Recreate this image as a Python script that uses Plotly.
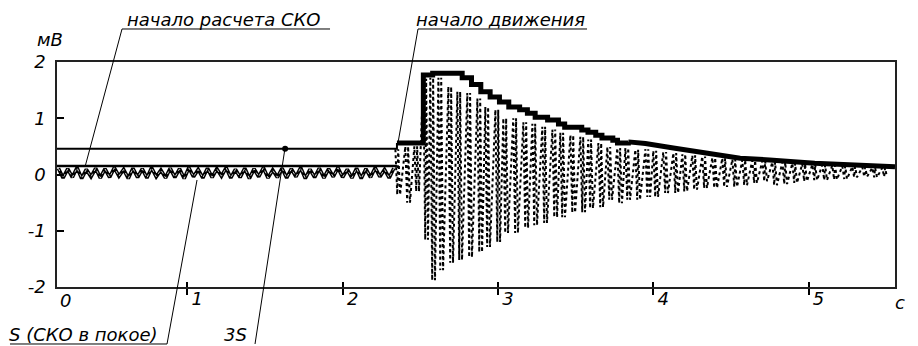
import plotly.graph_objects as go

# ---------------- data ----------------
# rest-state noise before motion (time, s ; value, mV)
rest_t = [0.17, 0.20, 0.23, 0.26, 0.29, 0.32, 0.35, 0.38, 0.41, 0.44,
          0.47, 0.50, 0.53, 0.56, 0.59, 0.62, 0.65, 0.68, 0.71, 0.74,
          0.77, 0.80, 0.83, 0.86, 0.89, 0.92, 0.95, 0.98, 1.01, 1.04,
          1.07, 1.10, 1.13, 1.16, 1.19, 1.22, 1.25, 1.28, 1.31, 1.34,
          1.37, 1.40, 1.43, 1.46, 1.49, 1.52, 1.55, 1.58, 1.61, 1.64,
          1.67, 1.70, 1.73, 1.76, 1.79, 1.82, 1.85, 1.88, 1.91, 1.94,
          1.97, 2.00, 2.03, 2.06, 2.09, 2.12, 2.15, 2.18, 2.21, 2.24,
          2.27, 2.30, 2.33]
rest_v = [0.11, -0.06, 0.10, -0.05, 0.12, -0.07, 0.09, -0.04, 0.11, -0.06,
          0.10, -0.05, 0.12, -0.03, 0.09, -0.07, 0.11, -0.05, 0.10, -0.06,
          0.12, -0.04, 0.08, -0.06, 0.11, -0.05, 0.10, -0.07, 0.12, -0.04,
          0.09, -0.06, 0.11, -0.05, 0.10, -0.03, 0.12, -0.06, 0.09, -0.05,
          0.11, -0.07, 0.10, -0.04, 0.12, -0.06, 0.08, -0.05, 0.11, -0.06,
          0.10, -0.04, 0.12, -0.07, 0.09, -0.05, 0.11, -0.06, 0.10, -0.04,
          0.12, -0.05, 0.09, -0.06, 0.11, -0.07, 0.10, -0.05, 0.12, -0.04,
          0.09, -0.06, 0.11]

# oscillation cycles during motion: time of each cycle, its maximum and minimum
spike_t = [2.370, 2.434, 2.492, 2.550, 2.595, 2.647, 2.711, 2.769, 2.833, 2.898,
           2.949, 3.014, 3.065, 3.129, 3.194, 3.252, 3.316, 3.381, 3.432, 3.497,
           3.561, 3.612, 3.677, 3.735, 3.799, 3.851, 3.915, 3.980, 4.031, 4.095,
           4.160, 4.218, 4.282, 4.346, 4.411, 4.475, 4.540, 4.604, 4.668, 4.733,
           4.797, 4.862, 4.926, 4.990, 5.055, 5.119, 5.183, 5.248, 5.312, 5.377,
           5.441, 5.505]
spike_max = [0.45, 0.50, 0.50, 1.70, 1.72, 1.72, 1.56, 1.47, 1.45, 1.35,
             1.20, 1.15, 1.00, 1.00, 0.93, 0.90, 0.85, 0.80, 0.74, 0.70,
             0.67, 0.62, 0.56, 0.49, 0.47, 0.47, 0.44, 0.45, 0.42, 0.40,
             0.38, 0.36, 0.34, 0.32, 0.30, 0.29, 0.27, 0.26, 0.25, 0.24,
             0.22, 0.22, 0.20, 0.19, 0.18, 0.17, 0.16, 0.15, 0.14, 0.13,
             0.12, 0.12]
spike_min = [-0.36, -0.50, -0.30, -1.16, -1.88, -1.70, -1.57, -1.52, -1.47, -1.38,
             -1.29, -1.20, -1.04, -1.04, -0.95, -0.90, -0.86, -0.76, -0.76, -0.68,
             -0.67, -0.60, -0.58, -0.45, -0.51, -0.45, -0.45, -0.40, -0.40, -0.33,
             -0.33, -0.30, -0.27, -0.24, -0.24, -0.22, -0.22, -0.19, -0.15, -0.12,
             -0.19, -0.17, -0.15, -0.12, -0.10, -0.10, -0.09, -0.08, -0.05, -0.04,
             -0.05, -0.04]

# S (RMS at rest) and 3S threshold
s_t = [0.16, 2.35]
s_v = [0.15, 0.15]
thr_t = [0.16, 2.35]
thr_v = [0.46, 0.46]
mark_t = [1.63]
mark_v = [0.46]

# envelope during motion: stepped part and smooth tail
env_t = [2.35, 2.52, 2.58, 2.77, 2.83, 2.89, 2.95, 3.01, 3.07, 3.14, 3.19, 3.24,
         3.32, 3.39, 3.43, 3.54, 3.58, 3.63, 3.67, 3.74, 3.77, 3.84]
env_v = [0.56, 1.77, 1.80, 1.72, 1.60, 1.47, 1.38, 1.29, 1.20, 1.15, 1.09, 1.02,
         0.97, 0.90, 0.84, 0.79, 0.75, 0.70, 0.65, 0.61, 0.56, 0.58]
tail_t = [3.84, 3.95, 4.13, 4.35, 4.56, 4.75, 5.04, 5.557]
tail_v = [0.58, 0.55, 0.47, 0.38, 0.29, 0.26, 0.20, 0.14]

x_ticks = [1, 2, 3, 4, 5]
y_ticks = [-2, -1, 0, 1, 2]
X_RANGE = [0.161, 5.557]
Y_RANGE = [-2, 2]

FONT = "DejaVu Sans"
TXT = dict(family=FONT, size=18, color="black", style="italic")

# ---------------- build traces ----------------
# each cycle drawn as a dense W-shaped column between its max and min
sig_x, sig_y = [], []
for t, mx, mn in zip(spike_t, spike_max, spike_min):
    sig_x += [t - 0.030, t - 0.018, t - 0.012, t]
    sig_y += [mx, mn, mx, mn]

fig = go.Figure()
fig.add_trace(go.Scatter(x=rest_t, y=rest_v, mode="lines",
                         line=dict(color="black", width=3.6)))
fig.add_trace(go.Scatter(x=rest_t, y=rest_v, mode="lines",
                         line=dict(color="white", width=0.8, dash="dot")))
fig.add_trace(go.Scatter(x=sig_x, y=sig_y, mode="lines",
                         line=dict(color="black", width=2, dash="dot")))
fig.add_trace(go.Scatter(x=s_t, y=s_v, mode="lines",
                         line=dict(color="black", width=2.5)))
fig.add_trace(go.Scatter(x=thr_t + env_t[:1], y=thr_v + env_v[:1], mode="lines",
                         line=dict(color="black", width=2, shape="hv")))
fig.add_trace(go.Scatter(x=env_t, y=env_v, mode="lines",
                         line=dict(color="black", width=5, shape="hv")))
fig.add_trace(go.Scatter(x=tail_t, y=tail_v, mode="lines",
                         line=dict(color="black", width=5)))
fig.add_trace(go.Scatter(x=mark_t, y=mark_v, mode="markers",
                         marker=dict(color="black", size=6)))
# invisible trace to activate the overlay axis with inward tick halves
fig.add_trace(go.Scatter(x=X_RANGE, y=Y_RANGE, xaxis="x2", mode="lines",
                         line=dict(width=0), hoverinfo="skip"))

# the page body adds an 8px offset, so the figure is 8px smaller than the window
fig.update_layout(
    width=910, height=338,
    margin=dict(l=49, r=23, t=54, b=59),
    paper_bgcolor="white", plot_bgcolor="white",
    showlegend=False,
    font=TXT,
    xaxis=dict(range=X_RANGE, tickvals=x_ticks, ticktext=[str(v) for v in x_ticks],
               ticks="outside", ticklen=6, tickwidth=1.5, tickcolor="black",
               ticklabelshift=10, ticklabelstandoff=-11,
               showline=True, mirror=True, linecolor="#222", linewidth=1.5,
               showgrid=False, zeroline=False, tickfont=TXT),
    xaxis2=dict(range=X_RANGE, overlaying="x", matches="x", tickvals=x_ticks,
                ticks="inside", ticklen=5, tickwidth=1.5, tickcolor="black",
                showticklabels=False, showline=False, showgrid=False,
                zeroline=False, side="bottom"),
    yaxis=dict(range=Y_RANGE, tickvals=y_ticks,
               ticktext=[str(v) if v >= 0 else "-" + str(-v) for v in y_ticks],
               ticks="inside", ticklen=7, tickwidth=1.5, tickcolor="black",
               ticklabelstandoff=6,
               showline=True, mirror=True, linecolor="#222", linewidth=1.5,
               showgrid=False, zeroline=False, tickfont=TXT),
)

line = dict(color="black", width=1)
# leader lines and underlines (paper coordinates)
shapes = [
    dict(type="line", xref="paper", yref="paper", x0=0.0776, y0=1.1467, x1=0.3258, y1=1.1467, line=line),
    dict(type="line", xref="paper", yref="paper", x0=0.0776, y0=1.1467, x1=0.0334, y1=0.5333, line=line),
    dict(type="line", xref="paper", yref="paper", x0=0.4308, y0=1.1467, x1=0.6325, y1=1.1467, line=line),
    dict(type="line", xref="paper", yref="paper", x0=0.4308, y0=1.1467, x1=0.4069, y1=0.64, line=line),
    dict(type="line", xref="paper", yref="paper", x0=-0.0561, y0=-0.2533, x1=0.1313, y1=-0.2533, line=line),
    dict(type="line", xref="paper", yref="paper", x0=0.1313, y0=-0.2533, x1=0.1671, y1=0.4756, line=line),
    dict(type="line", xref="paper", yref="paper", x0=0.2363, y0=-0.2533, x1=0.2721, y1=0.6178, line=line),
]
fig.update_layout(shapes=shapes)

ann = [
    ("начало расчета СКО", 0.199, 1.187),
    ("начало движения", 0.5298, 1.187),
    ("S (СКО в покое)", 0.0316, -0.2133),
    ("3S", 0.2136, -0.2133),
    ("мВ", -0.0084, 1.098),
    ("с", 1.006, -0.067),
    ("0", 0.0107, -0.058),
]
for text, x, y in ann:
    fig.add_annotation(text=text, x=x, y=y, xref="paper", yref="paper",
                       xanchor="center", yanchor="middle", showarrow=False, font=TXT)

fig.write_html("out.html")
